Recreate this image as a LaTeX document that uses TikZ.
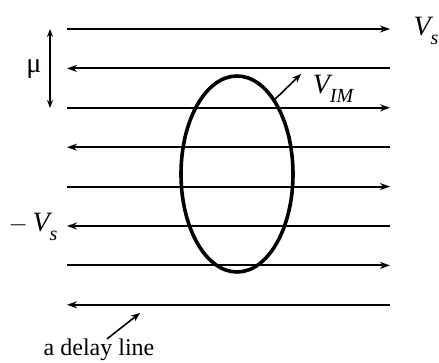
\documentclass[tikz,border=0pt]{standalone}
\usepackage{fontspec}
\setmainfont{Liberation Serif}
\usetikzlibrary{arrows.meta,shapes.geometric}
\newcommand{\lowsub}[1]{\raisebox{-0.3em}{\fontsize{20}{22}\selectfont #1}}
\tikzset{
  linetext/.style={font=\fontsize{24}{28}\selectfont, inner sep=0pt},
  symtext/.style={font=\fontsize{28}{32}\selectfont, inner sep=0pt},
  delayline/.style={line width=2pt},
  rightflow/.style={delayline, -{Stealth[length=10pt,width=7pt]}},
  leftflow/.style={delayline, {Stealth[length=10pt,width=7pt]}-},
  pointer/.style={line width=1.6pt, -{Stealth[length=9pt,width=7pt]}},
  loopline/.style={draw, ellipse, line width=3.6pt, inner sep=0pt}
}

\begin{document}
\begin{tikzpicture}[x=1pt,y=-1pt]
  \useasboundingbox (0,0) rectangle (439,363);
  % eight delay lines, running right and left in turn
  \foreach \i in {1,...,8} {
    \coordinate (l\i) at (67,{29+39.4*(\i-1)});
    \coordinate (r\i) at (390,{29+39.4*(\i-1)});
  }
  \foreach \i in {1,3,5,7} {
    \draw[rightflow] (l\i) -- (r\i);
  }
  \foreach \i in {2,4,6,8} {
    \draw[leftflow] (l\i) -- (r\i);
  }

  % spacing between two lines
  \coordinate (mutop) at (50,29);
  \coordinate (mubot) at (50,108);
  \draw[line width=1.4pt, {Stealth[length=8pt,width=6pt]}-{Stealth[length=8pt,width=6pt]}] (mutop) -- (mubot);
  \node[symtext] (mu) at (34,69) {μ};

  % the loop
  \node[loopline, minimum width=112pt, minimum height=196pt] (vim) at (237,174) {};
  \coordinate (vimtip) at (301,74);
  \draw[pointer] (vim.63) -- (vimtip);
  \node[symtext] (vimlabel) at (333,89) {\textit{V\lowsub{IM}}};

  \node[symtext] (vs) at (426,31) {\textit{V\lowsub{s}}};
  \node[symtext] (minusvs) at (33,227) {$-$\,\textit{V\lowsub{s}}};

  \node[linetext] (delay) at (99,350) {a delay line};
  \coordinate (delaytip) at (140,313);
  \draw[pointer] (delay.north) ++(8,0) coordinate (delayfoot) (delayfoot) -- (delaytip);
\end{tikzpicture}
\end{document}
